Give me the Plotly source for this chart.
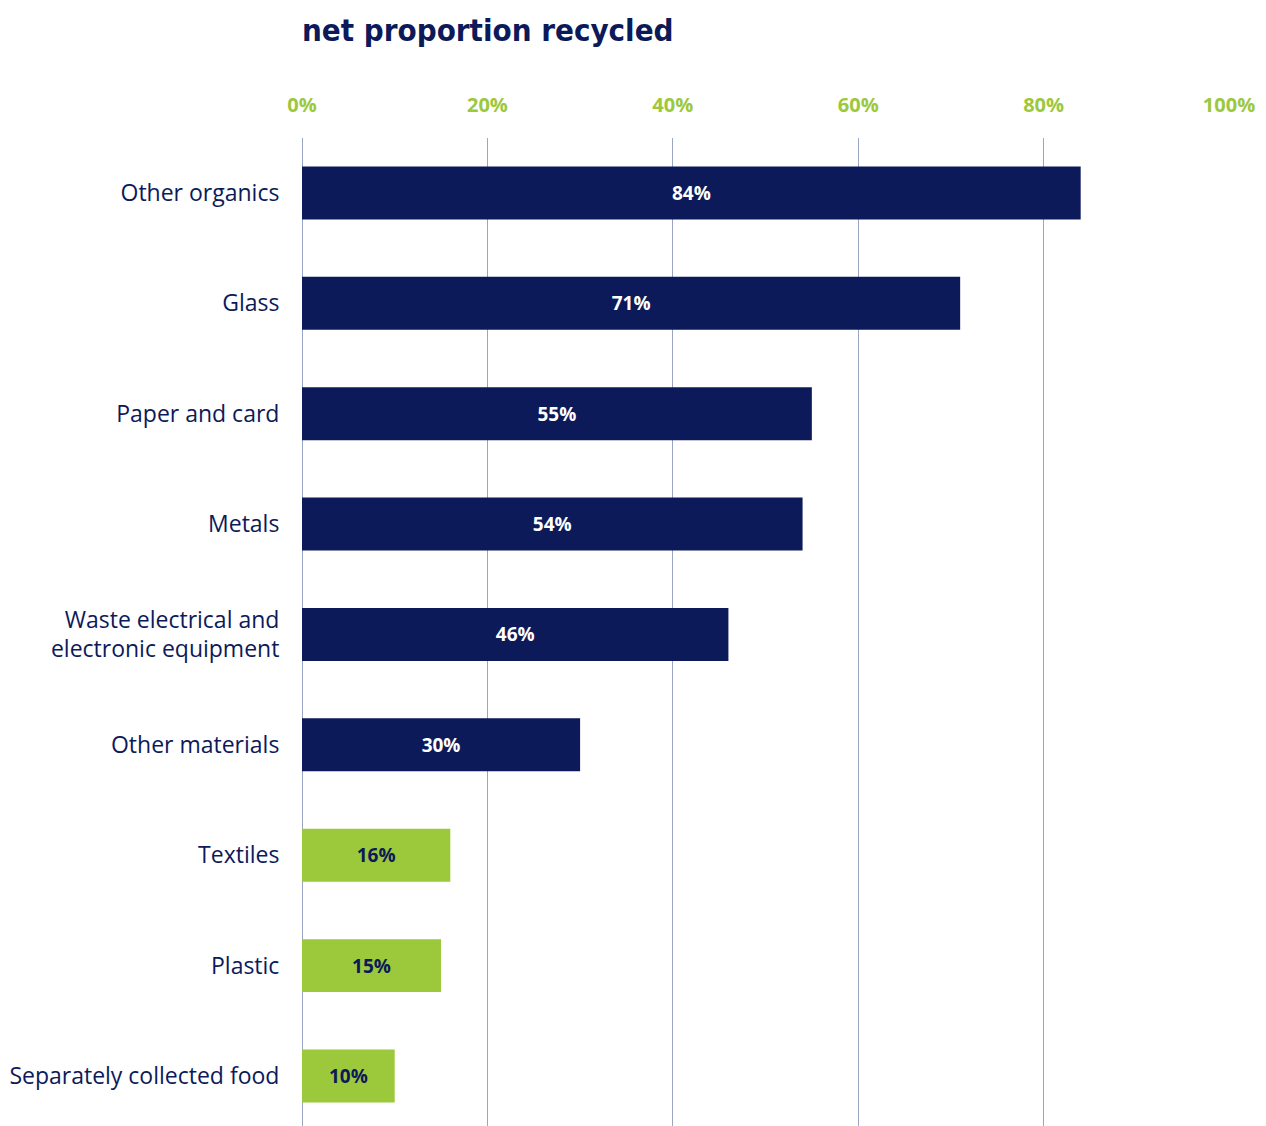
import plotly.graph_objects as go

# Net proportion of each material stream that is recycled
materials = [
    "Other organics",
    "Glass",
    "Paper and card",
    "Metals",
    "Waste electrical and<br>electronic equipment",
    "Other materials",
    "Textiles",
    "Plastic",
    "Separately collected food",
]
recycled_pct = [84, 71, 55, 54, 46, 30, 16, 15, 10]
tick_values = [0, 20, 40, 60, 80, 100]
tick_labels = ["0%", "20%", "40%", "60%", "80%", "100%"]

NAVY = "#0c1a5a"
GREEN = "#9cc83c"
GRID = "#9aa5c4"

# Lower-performing streams highlighted in green
bar_colors = [GREEN if v < 20 else NAVY for v in recycled_pct]
text_colors = [NAVY if v < 20 else "white" for v in recycled_pct]

fig = go.Figure(
    go.Bar(
        x=recycled_pct,
        y=materials,
        orientation="h",
        marker=dict(color=bar_colors, line=dict(width=0)),
        width=0.48,
        text=[f"{v}%" for v in recycled_pct],
        textposition="inside",
        insidetextanchor="middle",
        textangle=0,
        textfont=dict(family="Open Sans", size=19, color=text_colors, weight="bold"),
        hoverinfo="skip",
    )
)

fig.update_layout(
    width=1266,
    height=1126,
    paper_bgcolor="white",
    plot_bgcolor="white",
    margin=dict(l=302, r=37, t=138, b=0),
    showlegend=False,
    title=dict(
        text="net proportion recycled",
        font=dict(family="DejaVu Sans Condensed", size=31, color=NAVY, weight="bold"),
        x=0,
        xref="paper",
        xanchor="left",
        y=1 - 30 / 1126,
        yref="container",
        yanchor="middle",
    ),
    xaxis=dict(
        side="top",
        range=[0, 100],
        tickvals=tick_values,
        ticktext=tick_labels,
        tickfont=dict(family="Open Sans", size=20, color=GREEN, weight="bold"),
        showgrid=True,
        gridcolor=GRID,
        gridwidth=1,
        zeroline=True,
        zerolinecolor=GRID,
        zerolinewidth=1,
        showline=False,
        ticks="outside",
        ticklen=17,
        tickcolor="rgba(0,0,0,0)",
        fixedrange=True,
    ),
    yaxis=dict(
        type="category",
        range=[8.453, -0.498],
        tickfont=dict(family="Open Sans", size=23, color=NAVY),
        showgrid=False,
        zeroline=False,
        showline=False,
        ticks="outside",
        ticklen=17,
        tickcolor="rgba(0,0,0,0)",
        fixedrange=True,
    ),
    uniformtext=dict(minsize=10, mode="show"),
)

fig.write_html("out.html")
